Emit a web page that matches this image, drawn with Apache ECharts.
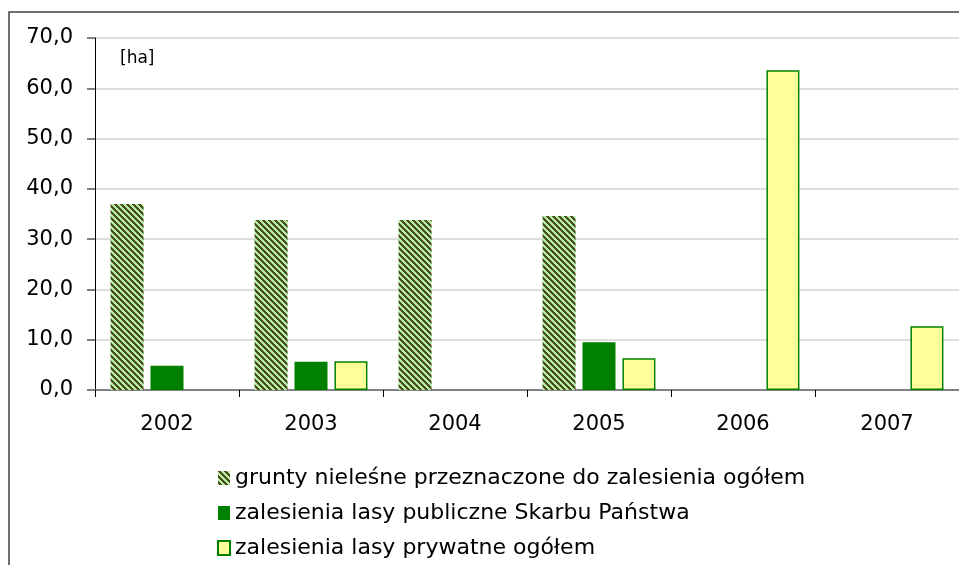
<!DOCTYPE html>
<html>
<head>
<meta charset="utf-8">
<script src="https://cdn.jsdelivr.net/npm/echarts@6/dist/echarts.min.js"></script>
<style>
  html, body { margin: 0; padding: 0; background: #fff; }
  #chart { width: 959px; height: 565px; }
</style>
</head>
<body>
<div id="chart"></div>
<script>
const years = ['2002', '2003', '2004', '2005', '2006', '2007']
const gruntyValues = [37.0, 33.8, 33.8, 34.6, null, null]
const publiczneValues = [4.8, 5.6, null, 9.5, null, null]
const prywatneValues = [null, 5.7, null, 6.3, 63.6, 12.7]
const seriesNames = [
  'grunty nieleśne przeznaczone do zalesienia ogółem',
  'zalesienia lasy publiczne Skarbu Państwa',
  'zalesienia lasy prywatne ogółem'
]

// diagonal hatch for the first series
function makeHatch() {
  const size = 6
  const c = document.createElement('canvas')
  c.width = size
  c.height = size
  const ctx = c.getContext('2d')
  const img = ctx.createImageData(size, size)
  for (let y = 0; y < size; y++) {
    for (let x = 0; x < size; x++) {
      const dark = (((x - y) % size) + size) % size < 3
      const i = (y * size + x) * 4
      img.data[i] = dark ? 76 : 178
      img.data[i + 1] = dark ? 76 : 238
      img.data[i + 2] = dark ? 26 : 168
      img.data[i + 3] = 255
    }
  }
  ctx.putImageData(img, 0, 0)
  return c
}

const chart = echarts.init(document.getElementById('chart'))
const font = 'DejaVu Sans, sans-serif'

chart.setOption({
  animation: false,
  textStyle: { fontFamily: font },
  grid: { left: 95, top: 38, width: 872, height: 352 },
  graphic: [
    {
      type: 'rect',
      shape: { x: 9, y: 12, width: 1000, height: 600 },
      style: { fill: 'none', stroke: '#404040', lineWidth: 1.5 },
      silent: true
    },
    {
      type: 'text',
      left: 120,
      top: 50,
      style: { text: '[ha]', fontSize: 17, fontFamily: font, fill: '#000' }
    }
  ],
  legend: {
    orient: 'vertical',
    left: 212,
    top: 462,
    itemWidth: 12,
    itemHeight: 14,
    itemGap: 13,
    icon: 'rect',
    textStyle: { fontSize: 22, color: '#000', fontFamily: font },
    data: seriesNames
  },
  xAxis: {
    type: 'category',
    data: years,
    axisLine: { lineStyle: { color: '#808080', width: 2 } },
    axisTick: { show: true, length: 7, lineStyle: { color: '#000' } },
    axisLabel: { fontSize: 21, color: '#000', margin: 24 },
    splitLine: { show: false }
  },
  yAxis: {
    type: 'value',
    min: 0,
    max: 70,
    interval: 10,
    axisLine: { show: true, lineStyle: { color: '#000', width: 1 } },
    axisTick: { show: true, length: 8, lineStyle: { color: '#808080', width: 2 } },
    axisLabel: {
      fontSize: 21,
      color: '#000',
      margin: 22,
      formatter: v => v.toFixed(1).replace('.', ',')
    },
    splitLine: { lineStyle: { color: '#dedede', width: 2 } }
  },
  series: [
    {
      name: seriesNames[0],
      type: 'bar',
      data: gruntyValues,
      barWidth: 33,
      barGap: '21%',
      itemStyle: { color: { image: makeHatch(), repeat: 'repeat' } }
    },
    {
      name: seriesNames[1],
      type: 'bar',
      data: publiczneValues,
      barWidth: 33,
      barGap: '21%',
      itemStyle: { color: '#008000' }
    },
    {
      name: seriesNames[2],
      type: 'bar',
      data: prywatneValues,
      barWidth: 33,
      barGap: '21%',
      itemStyle: { color: '#ffff99', borderColor: '#008000', borderWidth: 1.5 }
    }
  ]
})
</script>
</body>
</html>
